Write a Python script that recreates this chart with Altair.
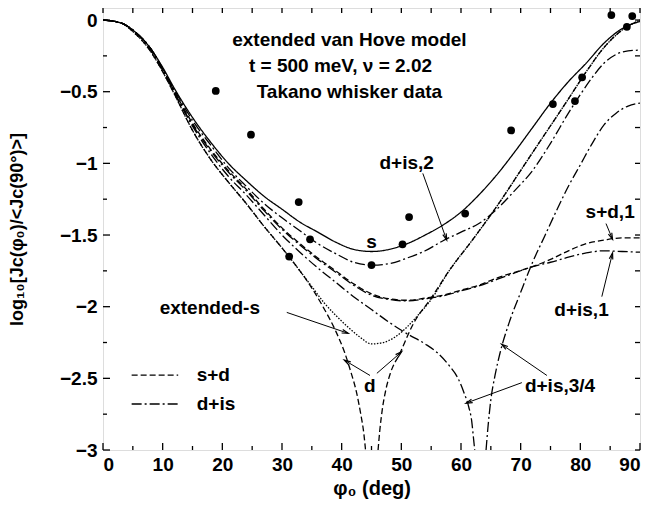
import math
import altair as alt
import pandas as pd

# ---------------- data ----------------
# s (solid)
PHI_S = [0, 3, 5, 8, 10, 12, 15, 18, 21, 24, 27, 30, 33, 36, 39, 42, 45,
         48, 51, 54, 57, 60, 63, 66, 69, 72, 75, 78, 81, 84, 87, 90]
VAL_S = [0, -0.02, -0.07, -0.20, -0.33, -0.48, -0.68, -0.85, -1.00, -1.12, -1.23, -1.32, -1.41, -1.48, -1.55, -1.60, -1.615,
         -1.60, -1.56, -1.50, -1.43, -1.34, -1.22, -1.08, -0.92, -0.75, -0.58, -0.43, -0.30, -0.16, -0.06, -0.01]

# d+is,2 (dash-dot)
PHI_DIS2 = [0, 3, 5, 8, 10, 12, 15, 18, 21, 24, 27, 30, 33, 36, 39, 42, 45,
            48, 51, 54, 57, 60, 63, 66, 69, 72, 75, 78, 80, 82, 84, 86, 88, 90]
VAL_DIS2 = [0, -0.02, -0.07, -0.20, -0.34, -0.49, -0.70, -0.87, -1.03, -1.16, -1.28, -1.38, -1.47, -1.56, -1.63, -1.69, -1.71,
            -1.70, -1.66, -1.61, -1.54, -1.48, -1.42, -1.32, -1.19, -1.05, -0.86, -0.65, -0.52, -0.40, -0.30, -0.24, -0.215, -0.21]

# s+d,1 (dashed)
PHI_SD1 = [0, 3, 5, 8, 10, 12, 15, 18, 21, 24, 27, 30, 33, 36, 39, 42, 45,
           48, 51, 54, 57, 60, 63, 66, 69, 72, 75, 78, 81, 84, 87, 90]
VAL_SD1 = [0, -0.02, -0.07, -0.20, -0.34, -0.50, -0.72, -0.90, -1.05, -1.18, -1.32, -1.45, -1.56, -1.66, -1.75, -1.84, -1.91,
           -1.945, -1.955, -1.94, -1.92, -1.885, -1.85, -1.80, -1.76, -1.72, -1.67, -1.61, -1.56, -1.535, -1.52, -1.52]

# d+is,1 (dash-dot)
PHI_DIS1 = [0, 3, 5, 8, 10, 12, 15, 18, 21, 24, 27, 30, 33, 36, 39, 42, 45,
            48, 51, 54, 57, 60, 63, 66, 69, 72, 75, 78, 81, 84, 87, 90]
VAL_DIS1 = [0, -0.02, -0.07, -0.20, -0.34, -0.51, -0.73, -0.91, -1.06, -1.19, -1.33, -1.46, -1.57, -1.67, -1.76, -1.85, -1.92,
            -1.95, -1.96, -1.945, -1.925, -1.89, -1.855, -1.81, -1.765, -1.72, -1.69, -1.655, -1.625, -1.61, -1.615, -1.62]

# d+is,3/4 (dash-dot), two branches
PHI_DIS34A = [0, 3, 5, 8, 10, 12, 15, 18, 21, 24, 27, 30, 33, 36, 39, 42, 45,
              48, 51, 54, 56, 58, 59.5, 60.5, 61.3, 61.8, 62.1, 62.3]
VAL_DIS34A = [0, -0.02, -0.07, -0.21, -0.35, -0.51, -0.74, -0.93, -1.09, -1.22, -1.36, -1.50, -1.62, -1.73, -1.83, -1.93, -2.02,
              -2.11, -2.19, -2.26, -2.32, -2.41, -2.50, -2.60, -2.70, -2.80, -2.92, -3.0]
PHI_DIS34B = [64.2, 64.5, 65, 65.7, 66.5, 68, 70, 72, 74, 76, 78, 80, 82, 84, 86, 88, 90]
VAL_DIS34B = [-3.0, -2.85, -2.65, -2.48, -2.33, -2.12, -1.90, -1.69, -1.51, -1.33, -1.16, -1.01, -0.86, -0.73, -0.65, -0.60, -0.58]

# d (dashed), two branches
PHI_DA = [0, 3, 5, 8, 10, 12, 15, 18, 21, 24, 27, 30, 33, 35, 37, 39, 40.5, 41.5, 42.5, 43.2, 43.7, 44.0]
VAL_DA = [0, -0.02, -0.08, -0.22, -0.36, -0.52, -0.77, -0.97, -1.13, -1.28, -1.44, -1.59, -1.75, -1.87, -2.01, -2.17,
          -2.32, -2.45, -2.60, -2.75, -2.88, -3.0]
PHI_DB = [46.1, 46.4, 46.8, 47.4, 48.2, 49.7, 52, 55, 58, 62, 66, 70, 74, 78, 81, 84, 87, 90]
VAL_DB = [-3.0, -2.86, -2.72, -2.58, -2.46, -2.33, -2.12, -1.94, -1.75, -1.53, -1.30, -1.05, -0.80, -0.55, -0.36, -0.19, -0.07, 0.0]

# extended-s (dotted)
PHI_EXT = [0, 3, 5, 8, 10, 12, 15, 18, 21, 24, 27, 30, 33, 35, 37, 39, 41, 43, 45, 47, 49, 51, 53, 55,
           58, 62, 66, 70, 74, 78, 81, 84, 87, 90]
VAL_EXT = [0, -0.02, -0.08, -0.22, -0.36, -0.52, -0.77, -0.97, -1.13, -1.28, -1.44, -1.59, -1.75, -1.86, -1.97, -2.06,
           -2.14, -2.21, -2.26, -2.25, -2.21, -2.14, -2.05, -1.95,
           -1.75, -1.53, -1.30, -1.05, -0.80, -0.55, -0.36, -0.19, -0.07, 0.0]

# Takano whisker data
PHI_PTS = [18.9, 24.8, 31.2, 32.8, 34.7, 45.0, 50.2, 51.3, 60.7, 68.4, 75.4, 79.1, 80.3, 85.2, 87.8, 88.7]
VAL_PTS = [-0.495, -0.80, -1.65, -1.27, -1.53, -1.71, -1.565, -1.375, -1.35, -0.77, -0.586, -0.565, -0.40, 0.035, -0.047, 0.028]

CURVES = [
    ("s", "solid", PHI_S, VAL_S),
    ("d+is,2", "dashdot", PHI_DIS2, VAL_DIS2),
    ("s+d,1", "dashed", PHI_SD1, VAL_SD1),
    ("d+is,1", "dashdot", PHI_DIS1, VAL_DIS1),
    ("d+is,3/4 a", "dashdot", PHI_DIS34A, VAL_DIS34A),
    ("d+is,3/4 b", "dashdot", PHI_DIS34B, VAL_DIS34B),
    ("d a", "dashed", PHI_DA, VAL_DA),
    ("d b", "dashed", PHI_DB, VAL_DB),
    ("extended-s", "dotted", PHI_EXT, VAL_EXT),
]

# annotation texts (label, x, y)
TXT_LABELS = ["extended van Hove model", "t = 500 meV, ν = 2.02", "Takano whisker data",
              "s", "d+is,2", "s+d,1", "d+is,1", "extended-s", "d", "d+is,3/4"]
TXT_X = [41.3, 39.8, 41.3, 45.0, 50.9, 85.0, 80.2, 17.9, 44.7, 76.6]
TXT_Y = [-0.14, -0.32, -0.50, -1.55, -1.00, -1.34, -2.02, -2.01, -2.55, -2.55]

# arrows (from -> tip)
ARR_X0 = [53.6, 84.3, 83.6, 30.8, 44.75, 45.9, 70.2, 74.4]
ARR_Y0 = [-1.07, -1.42, -1.93, -2.04, -2.48, -2.465, -2.53, -2.48]
ARR_X1 = [57.6, 85.4, 85.4, 41.1, 40.45, 50.05, 60.85, 66.8]
ARR_Y1 = [-1.535, -1.53, -1.625, -2.186, -2.373, -2.315, -2.673, -2.263]

# legend
LEG_LABELS = ["s+d", "d+is"]
LEG_STYLE = ["dashed", "dashdot"]
LEG_Y = [-2.477, -2.679]
LEG_X0, LEG_X1, LEG_TX = 4.8, 12.6, 15.7

X_TICKS = list(range(0, 91, 5))
Y_TICKS = [-3 + 0.25 * i for i in range(13)]

# ---------------- chart ----------------
W, H = 537, 442
YMAX = 0.084
FONT = "Liberation Sans"
xs = alt.Scale(domain=[0, 90], nice=False, zero=False)
ys = alt.Scale(domain=[-3, YMAX], nice=False, zero=False)
dash_scale = alt.Scale(domain=["solid", "dashed", "dashdot", "dotted"],
                       range=[[1, 0], [6, 3], [10, 3, 2, 3], [1.5, 1.5]])

rows = []
for name, style, ph, va in CURVES:
    for p, v in zip(ph, va):
        rows.append({"curve": name, "style": style, "phi": p, "val": v})
df_lines = pd.DataFrame(rows)

lines = alt.Chart(df_lines).mark_line(color="black", strokeWidth=1.3, interpolate="monotone", clip=True).encode(
    x=alt.X("phi:Q", scale=xs, axis=alt.Axis(
        values=list(range(0, 91, 10)), ticks=False, domain=False, grid=False,
        labelFont=FONT, labelFontSize=19, labelFontWeight="bold", labelColor="black", labelPadding=5,
        title="φ₀ (deg)", titleFont=FONT, titleFontSize=20, titleFontWeight="bold", titleColor="black",
        titlePadding=4)),
    y=alt.Y("val:Q", scale=ys, axis=alt.Axis(
        values=[-3, -2.5, -2, -1.5, -1, -0.5, 0], format=".1~f", ticks=False, domain=False, grid=False,
        labelFont=FONT, labelFontSize=19, labelFontWeight="bold", labelColor="black", labelPadding=6,
        title="log₁₀[Jc(φ₀)/<Jc(90°)>]", titleFont=FONT, titleFontSize=18, titleFontWeight="bold",
        titleColor="black", titleX=-81, titleY=H / 2, titleBaseline="alphabetic")),
    strokeDash=alt.StrokeDash("style:N", scale=dash_scale, legend=None),
    detail="curve:N",
)

df_pts = pd.DataFrame({"phi": PHI_PTS, "val": VAL_PTS})
pts = alt.Chart(df_pts).mark_circle(size=60, color="black", opacity=1).encode(
    x=alt.X("phi:Q", scale=xs), y=alt.Y("val:Q", scale=ys))

df_txt = pd.DataFrame({"t": TXT_LABELS, "x": TXT_X, "y": TXT_Y})
texts = alt.Chart(df_txt).mark_text(font=FONT, fontSize=19, fontWeight="bold", color="black",
                                    align="center", baseline="middle").encode(
    x=alt.X("x:Q", scale=xs), y=alt.Y("y:Q", scale=ys), text="t:N")

# arrows
kx = W / 90.0
ky = H / (YMAX + 3)
angs = []
for x0, y0, x1, y1 in zip(ARR_X0, ARR_Y0, ARR_X1, ARR_Y1):
    dx = (x1 - x0) * kx
    dy = -(y1 - y0) * ky
    angs.append(math.degrees(math.atan2(dx, -dy)) % 360)
df_arr = pd.DataFrame({"x0": ARR_X0, "y0": ARR_Y0, "x1": ARR_X1, "y1": ARR_Y1, "ang": angs})
shafts = alt.Chart(df_arr).mark_rule(color="black", strokeWidth=1).encode(
    x=alt.X("x0:Q", scale=xs), y=alt.Y("y0:Q", scale=ys), x2="x1:Q", y2="y1:Q")
heads = alt.Chart(df_arr).mark_point(shape="M-0.45,1.6L0,0L0.45,1.6", filled=False, size=64,
                                     color="black", strokeWidth=1.2, opacity=1).encode(
    x=alt.X("x1:Q", scale=xs), y=alt.Y("y1:Q", scale=ys), angle=alt.Angle("ang:Q", scale=None))

# legend
df_leg = pd.DataFrame({"label": LEG_LABELS, "style": LEG_STYLE, "y": LEG_Y,
                       "x0": [LEG_X0] * 2, "x1": [LEG_X1] * 2, "tx": [LEG_TX] * 2})
leg_lines = alt.Chart(df_leg).mark_rule(color="black", strokeWidth=1.3).encode(
    x=alt.X("x0:Q", scale=xs), x2="x1:Q", y=alt.Y("y:Q", scale=ys),
    strokeDash=alt.StrokeDash("style:N", scale=dash_scale, legend=None))
leg_text = alt.Chart(df_leg).mark_text(font=FONT, fontSize=19, fontWeight="bold", color="black",
                                       align="left", baseline="middle").encode(
    x=alt.X("tx:Q", scale=xs), y=alt.Y("y:Q", scale=ys), text="label:N")

# inward ticks on all four sides
def xticks(vals, length, top):
    d = pd.DataFrame({"t": vals})
    y0, y1 = (0, length) if top else (H, H - length)
    return alt.Chart(d).mark_rule(color="black", strokeWidth=1.3).encode(
        x=alt.X("t:Q", scale=xs), y=alt.value(y0), y2=alt.value(y1))

def yticks(vals, length, right):
    d = pd.DataFrame({"t": vals})
    x0, x1 = (W, W - length) if right else (0, length)
    return alt.Chart(d).mark_rule(color="black", strokeWidth=1.3).encode(
        y=alt.Y("t:Q", scale=ys), x=alt.value(x0), x2=alt.value(x1))

xmaj = [v for v in X_TICKS if v % 10 == 0]
xmin = [v for v in X_TICKS if v % 10 != 0]
ymaj = [v for v in Y_TICKS if abs(v * 2 - round(v * 2)) < 1e-9]
ymin = [v for v in Y_TICKS if abs(v * 2 - round(v * 2)) >= 1e-9]
tick_layers = [xticks(xmaj, 7, False), xticks(xmin, 4, False), xticks(X_TICKS, 5, True),
               yticks(ymaj, 7, False), yticks(ymin, 4, False), yticks(Y_TICKS, 5, True)]

chart = alt.layer(lines, pts, texts, shafts, heads, leg_lines, leg_text, *tick_layers).properties(
    width=W, height=H,
    autosize=alt.AutoSizeParams(type="none"),
    padding={"left": 95, "top": 0, "right": 2, "bottom": 50},
).configure_view(stroke="black", strokeWidth=2).configure(background="white")

chart.save("out.html", embed_options={"renderer": "svg", "actions": False})
